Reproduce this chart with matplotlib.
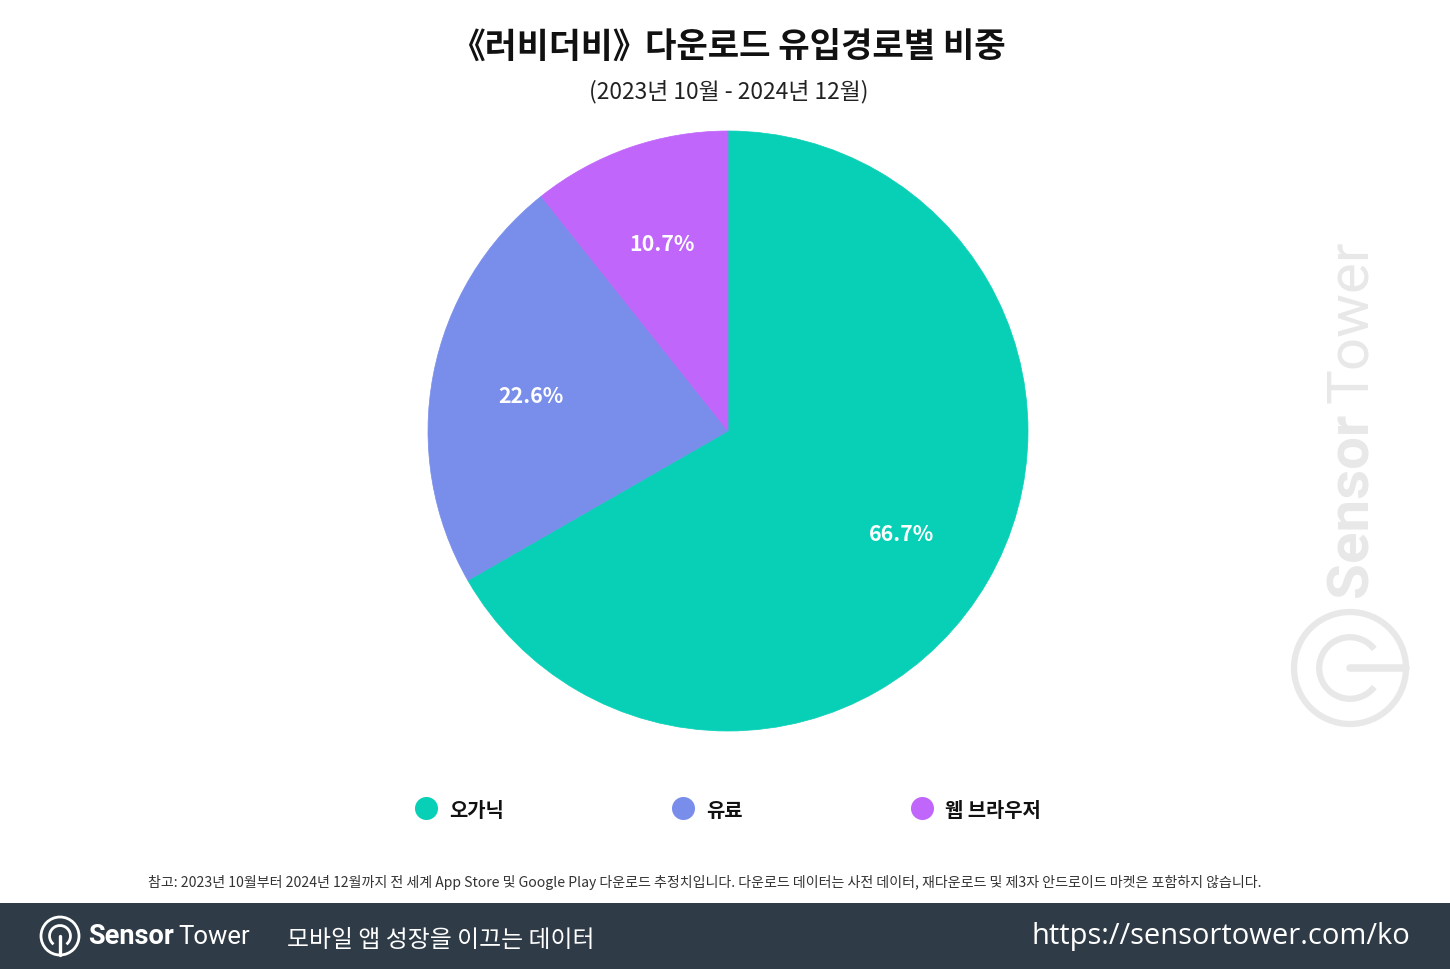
import matplotlib
matplotlib.use("Agg")
import matplotlib.pyplot as plt
from matplotlib.patches import Arc, Circle, Rectangle

plt.rcParams['font.family'] = ['Noto Sans CJK KR', 'DejaVu Sans']

W, H = 1450, 970

categories = ['오가닉', '유료', '웹 브라우저']
shares = [66.7, 22.6, 10.7]
colors = ['#08d0b6', '#788eea', '#c166fb']
legend_x = [426, 683, 922]

TITLE_NAME = '《러비더비》'
TITLE_REST = '다운로드 유입경로별 비중'
SUBTITLE = '(2023년 10월 - 2024년 12월)'
NOTE = ('참고: 2023년 10월부터 2024년 12월까지 전 세계 App Store 및 Google Play 다운로드 추정치입니다. '
        '다운로드 데이터는 사전 데이터, 재다운로드 및 제3자 안드로이드 마켓은 포함하지 않습니다.')
TAGLINE = '모바일 앱 성장을 이끄는 데이터'
URL = 'https://sensortower.com/ko'
LOGO_FONT = 'Roboto'


def draw_logo(ax, x, y, r, color, lw, stem_angle):
    # ring, open inner arc and stem of the Sensor Tower mark
    ax.add_patch(Circle((x, y), r, fill=False, ec=color, lw=lw))
    ax.add_patch(Arc((x, y), r * 1.1, r * 1.1, theta1=stem_angle + 38, theta2=stem_angle + 322, color=color, lw=lw))
    if stem_angle == 0:
        ax.plot([x, x + r], [y, y], color=color, lw=lw * 1.2, solid_capstyle='round')
    else:
        ax.plot([x, x], [y, y + r], color=color, lw=lw * 1.2, solid_capstyle='round')


fig = plt.figure(figsize=(W / 100, H / 100), dpi=100, facecolor='white')

# pixel-coordinate layer for text and decoration
bg = fig.add_axes([0, 0, 1, 1])
bg.set_xlim(0, W)
bg.set_ylim(H, 0)
bg.axis('off')

# pie
ax = fig.add_axes([428 / W, 1 - 732 / H, 600 / W, 600 / H])
wedges, _, autotexts = ax.pie(shares, colors=colors, startangle=90, counterclock=False, radius=1,
                              autopct='%.1f%%', pctdistance=0.67,
                              textprops={'color': 'white', 'fontsize': 15.4, 'fontweight': 'bold'})
ax.set_xlim(-1, 1)
ax.set_ylim(-1, 1)
for w in wedges:
    w.set_edgecolor(w.get_facecolor())
    w.set_linewidth(0.5)
for t in autotexts:
    px, py = t.get_position()
    t.set_position((px, py - 0.007))

bg.text(450, 47, TITLE_NAME, ha='left', va='center', fontsize=25, fontweight='bold', color='#111111')
bg.text(645.5, 47, TITLE_REST, ha='left', va='center', fontsize=24.6, fontweight='bold', color='#111111')
bg.text(728.5, 92, SUBTITLE, ha='center', va='center', fontsize=16.4, color='#222222')

# legend
for x, name, c in zip(legend_x, categories, colors):
    bg.scatter([x + 0.5], [809], s=275, color=c, linewidths=0)
    bg.text(x + 23, 811, name, ha='left', va='center', fontsize=14.3, fontweight='bold', color='#111111')

bg.text(704.5, 882.5, NOTE, ha='center', va='center', fontsize=10.1, color='#333333')

# watermark
wm = '#e8e8e8'
bg.text(1352, 597, 'Sensor', rotation=90, ha='center', va='bottom', fontsize=42, color=wm,
        family=LOGO_FONT, fontweight='bold')
bg.text(1352, 403, 'Tower', rotation=90, ha='center', va='bottom', fontsize=42, color=wm, family=LOGO_FONT)
draw_logo(bg, 1350, 669, 56, wm, 4.5, 0)

# footer
bg.add_patch(Rectangle((0, 904), W, 66, fc='#2f3b47', ec='none'))
draw_logo(bg, 60, 937, 19, 'white', 2, 90)
bg.text(88, 937, 'Sensor', ha='left', va='center', fontsize=19.5, fontweight='bold', color='white', family=LOGO_FONT)
bg.text(178, 937, 'Tower', ha='left', va='center', fontsize=18.5, color='white', family=LOGO_FONT)
bg.text(287, 941, TAGLINE, ha='left', va='center', fontsize=17.2, color='white')
bg.text(1410, 937, URL, ha='right', va='center', fontsize=21, color='white', family='Open Sans')

fig.savefig('out.png', dpi=100)
